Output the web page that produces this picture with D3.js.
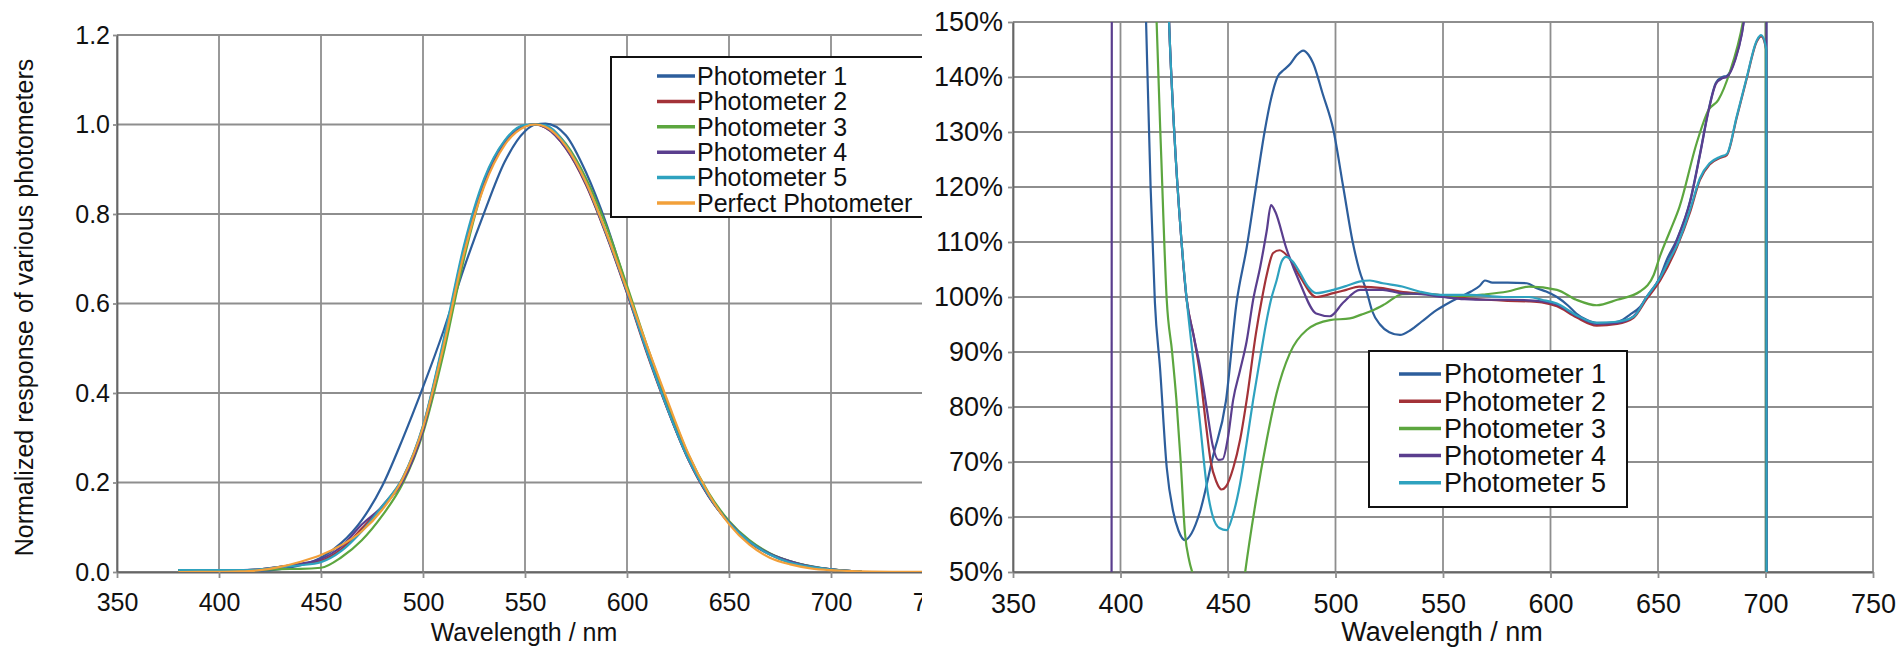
<!DOCTYPE html>
<html>
<head>
<meta charset="utf-8">
<script src="https://cdn.jsdelivr.net/npm/d3@7"></script>
<style>
  body { margin: 0; background: #fff; }
  svg text { font-family: "Liberation Sans", Arial, Helvetica, sans-serif; fill: #111; }
</style>
</head>
<body>
<svg id="chart" width="1897" height="648"></svg>
<script>
// ---- left panel: normalized responses ----
const xTicks = [350, 400, 450, 500, 550, 600, 650, 700, 750];
const leftYTicks = [0, 0.2, 0.4, 0.6, 0.8, 1.0, 1.2];
const rightYTicks = [50, 60, 70, 80, 90, 100, 110, 120, 130, 140, 150];

const seriesNames = ['Photometer 1', 'Photometer 2', 'Photometer 3', 'Photometer 4', 'Photometer 5', 'Perfect Photometer'];
const seriesColors = ['#2d5e9c', '#a33238', '#5ca63f', '#5a3e8e', '#2ea2bf', '#f2a03a'];

const photometerWavelengths = [380, 390, 400, 410, 420, 430, 440, 450, 460, 470, 480, 490, 500, 510, 520, 530, 540, 550, 555, 560,
                               570, 580, 590, 600, 610, 620, 630, 640, 650, 660, 670, 680, 690, 700, 710, 715];
const photometer1 = [0.004, 0.004, 0.004, 0.004, 0.0031, 0.0065, 0.0152, 0.032, 0.065, 0.116, 0.192, 0.297, 0.413, 0.538, 0.678, 0.803, 0.916, 0.985, 1.0, 1.002,
                     0.976, 0.892, 0.776, 0.634, 0.490, 0.364, 0.253, 0.170, 0.110, 0.069, 0.041, 0.024, 0.013, 0.006, 0.002, 0.001];
const photometer2 = [0.004, 0.004, 0.004, 0.004, 0.006, 0.0116, 0.0175, 0.0253, 0.051, 0.097, 0.147, 0.209, 0.325, 0.512, 0.721, 0.875, 0.962, 0.998, 1.0, 0.993,
                     0.947, 0.864, 0.751, 0.623, 0.486, 0.362, 0.252, 0.169, 0.110, 0.066, 0.039, 0.021, 0.0114, 0.006, 0.002, 0.001];
const photometer3 = [0.004, 0.004, 0.004, 0.004, 0.0046, 0.0066, 0.0069, 0.0095, 0.033, 0.071, 0.126, 0.197, 0.310, 0.487, 0.698, 0.866, 0.960, 0.998, 1.0, 0.997,
                     0.957, 0.879, 0.771, 0.640, 0.503, 0.376, 0.263, 0.177, 0.114, 0.071, 0.042, 0.024, 0.0127, 0.006, 0.002, 0.001];
const photometer4 = [0.0, 0.0, 0.003, 0.004, 0.006, 0.0116, 0.0184, 0.029, 0.057, 0.106, 0.146, 0.202, 0.316, 0.508, 0.719, 0.868, 0.959, 0.997, 1.0, 0.993,
                     0.947, 0.866, 0.753, 0.625, 0.489, 0.363, 0.253, 0.170, 0.111, 0.068, 0.041, 0.024, 0.012, 0.006, 0.002, 0.001];
const photometer5 = [0.004, 0.004, 0.004, 0.004, 0.006, 0.0115, 0.0151, 0.022, 0.047, 0.091, 0.147, 0.210, 0.327, 0.517, 0.728, 0.879, 0.964, 0.999, 1.0, 0.998,
                     0.954, 0.870, 0.755, 0.627, 0.489, 0.363, 0.253, 0.171, 0.110, 0.068, 0.039, 0.021, 0.0114, 0.006, 0.002, 0.001];

const perfectWavelengths = [380, 390, 400, 410, 420, 430, 440, 450, 460, 470, 480, 490, 500, 510, 520, 530, 540, 550, 555,
                            560, 570, 580, 590, 600, 610, 620, 630, 640, 650, 660, 670, 680, 690, 700, 710, 720, 730, 740, 750, 760, 770, 780];
const perfectPhotometer = [0.00004, 0.00012, 0.0004, 0.0012, 0.004, 0.0116, 0.023, 0.038, 0.060, 0.091, 0.139, 0.208, 0.323, 0.503, 0.710, 0.862, 0.954, 0.995, 1.0,
                           0.995, 0.952, 0.870, 0.757, 0.631, 0.503, 0.381, 0.265, 0.175, 0.107, 0.061, 0.032, 0.017, 0.0082, 0.0041, 0.0021, 0.00105, 0.00052,
                           0.00025, 0.00012, 0.00006, 0.00003, 0.000015];

// ---- right panel: response relative to the perfect photometer, [nm, %] ----
const ratio1 = [[405, 260], [411.9, 150], [414, 120], [416, 99], [418.4, 87], [421.5, 69], [424.5, 61], [427, 57.5], [430, 55.8], [433, 57],
                [437, 61], [443, 71], [449, 81], [454, 99], [458.7, 109], [463, 120], [467, 130], [470, 136], [473, 140], [476, 141.3],
                [479, 142.4], [482, 144], [485, 144.8], [487.5, 144], [489.6, 142.5], [494, 137], [499, 130.4], [503.6, 120], [508, 110],
                [511, 105], [514.5, 101], [517, 97.5], [520.7, 95], [525, 93.6], [530, 93.1], [535, 94], [540, 95.5], [547, 97.6], [553, 99],
                [558, 100], [563, 101], [567, 102], [569.5, 103], [573, 102.6], [580, 102.6], [589, 102.5], [593.6, 101.6], [598, 101],
                [603, 100], [608, 98.5], [612, 97], [617, 95.8], [621.5, 95.3], [626, 95.3], [632, 95.6], [637, 96.8], [641.6, 98.2],
                [646, 100.5], [651, 103.7], [654, 106.7], [658.7, 110.4], [665, 117.6], [669.5, 126], [673.5, 134], [677, 139], [680, 140],
                [682, 140.2], [686, 143.4], [689, 148], [692, 156], [700.4, 165], [700.6, 0]];
const ratio2 = [[415, 300], [422.6, 150], [425, 130], [428, 112], [430.8, 99.5], [434, 93], [437, 86], [440, 76], [442, 70], [444.5, 66.5],
                [447, 65], [449, 65.5], [452.5, 69], [455.6, 74], [458.7, 81.3], [463, 93.4], [465.7, 99.5], [468, 104], [471, 108], [474, 108.5],
                [478, 107.3], [483.5, 103.7], [491, 100], [499, 100.7], [505, 101.3], [511, 101.9], [522, 101.6], [530, 101], [540, 100.6],
                [550, 100.3], [560, 99.8], [570, 99.5], [580, 99.3], [590, 99.2], [596, 99], [603, 98.3], [612, 96.3], [621.5, 94.8], [631, 95.1],
                [638.6, 96.2], [644.7, 99.6], [651, 103], [658.7, 109], [665, 115.5], [669.5, 121.3], [674, 124.1], [679, 125.3], [682, 125.8],
                [686.6, 132.6], [691, 139.3], [696, 146.5], [698, 147.4], [700.4, 144.8], [700.6, 0]];
const ratio3 = [[410, 300], [416.8, 150], [419, 125], [421.5, 99.5], [424, 90], [426, 81.3], [428, 70], [430, 57], [432, 52], [434, 49],
                [440, 30], [446, 25], [452, 30], [458, 50], [463, 63], [468, 74], [472.6, 82.5], [478.8, 89.8], [486.6, 94], [497.4, 95.8],
                [506.7, 96.1], [512, 96.8], [517.5, 97.6], [523, 98.7], [531, 100.5], [540, 100.6], [550, 100.3], [560, 100.2], [570, 100.5],
                [580, 101], [590, 101.9], [603, 101.3], [612, 99.5], [621.5, 98.5], [631, 99.5], [641.6, 101], [648, 104], [651, 107.5],
                [655.6, 112], [660, 116.4], [668, 128], [673.5, 134], [678, 135.8], [683.5, 141], [689.5, 150], [695, 165], [700.1, 175], [700.3, 0]];
const ratio4 = [[395.8, 0], [396.2, 400], [415, 300], [422.6, 150], [425, 130], [428, 112], [430.8, 99.5], [434, 93], [437, 87.3], [440, 80],
                [443, 72.8], [445.5, 70.4], [447.5, 70.5], [450, 74.5], [452.4, 81.3], [455.5, 86.5], [458.7, 92], [461.7, 99.5], [465, 105.5],
                [468, 112], [470, 116.7], [472, 115.5], [477, 109], [483.5, 102.5], [491, 97], [497.4, 96.5], [503.6, 99], [511.4, 101.3],
                [522, 101.3], [530, 100.7], [540, 100.5], [550, 100], [560, 99.6], [570, 99.5], [580, 99.5], [590, 99.4], [596, 99.2], [603, 98.6],
                [612, 96.6], [621.5, 95.1], [631, 95.3], [638.6, 96.5], [644.7, 100], [651, 103.5], [658.7, 110.2], [665, 117.4], [669.5, 125.8],
                [673.5, 133.8], [677, 138.8], [680, 139.8], [682, 140], [686, 143.2], [689, 147.8], [692, 156], [700.4, 165], [700.6, 0]];
const ratio5 = [[415, 300], [422.6, 150], [425, 130], [428, 112], [430.8, 99.5], [434, 88], [437, 77], [440, 66], [443, 60], [446, 58],
                [449.4, 57.6], [452, 60], [455.6, 66], [458.5, 73], [461.7, 81.3], [465, 89], [468, 95.8], [470, 99.5], [472.6, 103], [475, 106.5],
                [477, 107.3], [480, 106.5], [483.5, 104.4], [487, 102], [491, 100.7], [499, 101.3], [505, 102], [511, 102.8], [516, 103],
                [522, 102.5], [531, 101.9], [539, 101], [548.6, 100.4], [562.6, 100.4], [578, 100], [590, 100], [596, 99.5], [603, 98.8],
                [612, 96.7], [621.5, 95.3], [631, 95.5], [638.6, 96.4], [644.7, 100], [651, 103.5], [655.6, 107], [658.7, 109.3], [665, 116],
                [669.5, 121.6], [674, 124.3], [679, 125.5], [682, 126], [686.6, 132.8], [691, 139.5], [696, 146.7], [698, 147.6], [700.4, 145], [700.6, 0]];

const gridColor = '#8e8e8e';

let svg = d3.select("#chart");

function drawPanel(p) {
    /**
     * Draw one panel: grid, axes, clipped lines, legend and titles
     */
    let g = svg.append("g");
    let x = d3.scaleLinear().domain([350, 750]).range([p.left, p.right]);
    let y = d3.scaleLinear().domain(p.yDomain).range([p.bottom, p.top]);

    // grid
    g.append("g").selectAll("line").data(p.yTicks).join("line")
        .attr("x1", p.left).attr("x2", p.right)
        .attr("y1", d => y(d)).attr("y2", d => y(d))
        .attr("stroke", gridColor).attr("stroke-width", 1.8);
    g.append("g").selectAll("line").data(xTicks).join("line")
        .attr("x1", d => x(d)).attr("x2", d => x(d))
        .attr("y1", p.top).attr("y2", p.bottom)
        .attr("stroke", gridColor).attr("stroke-width", 1.8);

    // axes
    let xAxis = g.append("g")
        .attr("transform", "translate(0," + p.bottom + ")")
        .call(d3.axisBottom(x).tickValues(xTicks).tickSize(6).tickSizeOuter(0).tickFormat(d3.format("d")));
    xAxis.selectAll("text")
        .attr("y", p.xLabelY - p.bottom).attr("dy", null)
        .style("font-size", p.fontSize + "px");

    let yAxis = g.append("g")
        .attr("transform", "translate(" + p.left + ",0)")
        .call(d3.axisLeft(y).tickValues(p.yTicks).tickSize(p.yTickSize).tickPadding(p.yPadding).tickSizeOuter(0).tickFormat(p.yFormat));
    yAxis.selectAll("text").style("font-size", p.fontSize + "px");

    g.selectAll(".domain").attr("stroke", "#666").attr("stroke-width", 1.8);
    g.selectAll(".tick line").attr("stroke", gridColor).attr("stroke-width", 1.8);

    // lines
    let clipId = "clip-" + p.name;
    svg.append("clipPath").attr("id", clipId)
        .append("rect")
        .attr("x", p.left).attr("y", p.top)
        .attr("width", p.right - p.left).attr("height", p.bottom - p.top);

    let line = d3.line()
        .x(d => x(d[0]))
        .y(d => y(d[1]))
        .curve(d3.curveMonotoneX);

    g.append("g").attr("clip-path", "url(#" + clipId + ")")
        .selectAll("path").data(p.series).join("path")
        .attr("fill", "none")
        .attr("stroke", (d, i) => seriesColors[i])
        .attr("stroke-width", 2.2)
        .attr("stroke-linejoin", "round")
        .attr("d", d => line(d));

    // legend
    let lg = g.append("g");
    lg.append("rect")
        .attr("x", p.legend.x).attr("y", p.legend.y)
        .attr("width", p.legend.w).attr("height", p.legend.h)
        .attr("fill", "#fff").attr("stroke", "#111").attr("stroke-width", 2);
    let rows = lg.selectAll("g").data(p.series.map((d, i) => i)).join("g")
        .attr("transform", i => "translate(0," + (p.legend.firstRow + i * p.legend.step) + ")");
    rows.append("line")
        .attr("x1", p.legend.lineX1).attr("x2", p.legend.lineX2)
        .attr("stroke", i => seriesColors[i]).attr("stroke-width", 3.5);
    rows.append("text")
        .attr("x", p.legend.textX).attr("dy", "0.35em")
        .style("font-size", p.fontSize + "px")
        .text(i => seriesNames[i]);

    // titles
    g.append("text")
        .attr("x", p.xTitleX).attr("y", p.xTitleY)
        .attr("text-anchor", "middle")
        .style("font-size", p.fontSize + "px")
        .text("Wavelength / nm");
    if (p.yTitle) {
        g.append("text")
            .attr("transform", "translate(33," + ((p.top + p.bottom) / 2 + 4) + ") rotate(-90)")
            .attr("text-anchor", "middle")
            .style("font-size", p.fontSize + "px")
            .text(p.yTitle);
    }
}

const toPairs = (xs, ys) => xs.map((w, i) => [w, ys[i]]);

drawPanel({
    name: "left", left: 117, right: 933, top: 35, bottom: 572,
    yDomain: [0, 1.2], yTicks: leftYTicks, yFormat: d3.format(".1f"),
    yTickSize: 4, yPadding: 3, fontSize: 25, xLabelY: 611,
    series: [toPairs(photometerWavelengths, photometer1), toPairs(photometerWavelengths, photometer2),
             toPairs(photometerWavelengths, photometer3), toPairs(photometerWavelengths, photometer4),
             toPairs(photometerWavelengths, photometer5), toPairs(perfectWavelengths, perfectPhotometer)],
    legend: {x: 611, y: 57, w: 320, h: 160, firstRow: 76, step: 25.4, lineX1: 657, lineX2: 695, textX: 697},
    xTitleX: 524, xTitleY: 641,
    yTitle: "Normalized response of various photometers"
});

// the right panel sits over the cut-off end of the left one
svg.append("rect").attr("x", 922).attr("y", 0).attr("width", 975).attr("height", 648).attr("fill", "#fff");

drawPanel({
    name: "right", left: 1013, right: 1873, top: 22, bottom: 572,
    yDomain: [50, 150], yTicks: rightYTicks, yFormat: d => d + "%",
    yTickSize: 5, yPadding: 5, fontSize: 27, xLabelY: 613,
    series: [ratio1, ratio2, ratio3, ratio4, ratio5],
    legend: {x: 1369, y: 351, w: 258, h: 156, firstRow: 374, step: 27.2, lineX1: 1399, lineX2: 1441, textX: 1444},
    xTitleX: 1442, xTitleY: 641,
    yTitle: null
});
</script>
</body>
</html>
